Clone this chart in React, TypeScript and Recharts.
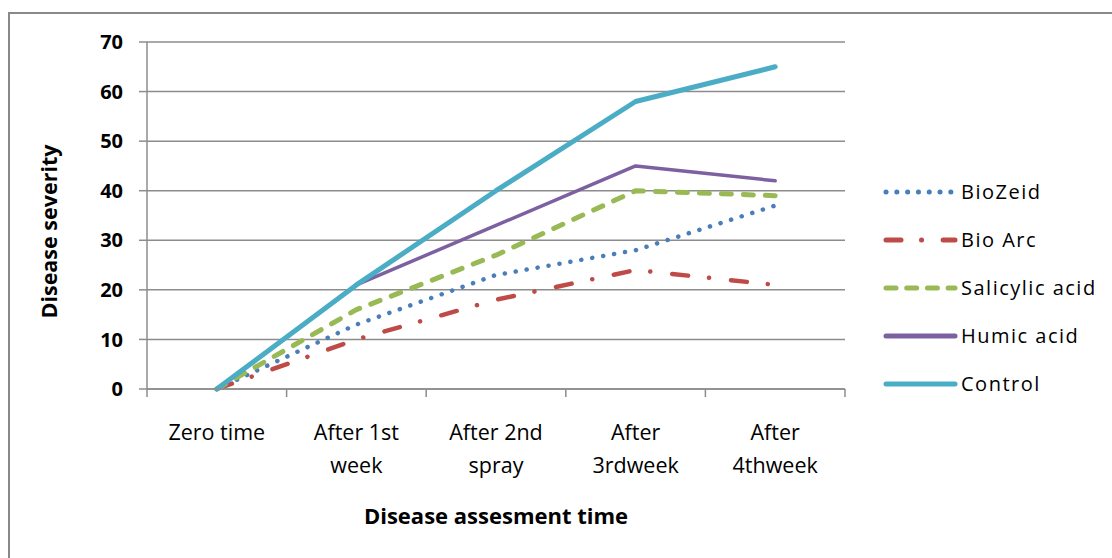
import React from "react";
import {
  CartesianGrid,
  Line,
  LineChart,
  XAxis,
  YAxis,
} from "recharts";

const categories = [
  "Zero time",
  "After 1st week",
  "After 2nd spray",
  "After 3rdweek",
  "After 4thweek",
];

// how Excel wrapped the category labels
const categoryLines = [
  ["Zero time"],
  ["After 1st", "week"],
  ["After 2nd", "spray"],
  ["After", "3rdweek"],
  ["After", "4thweek"],
];

const bioZeid = [0, 13, 23, 28, 37];
const bioArc = [0, 10, 18, 24, 21];
const salicylicAcid = [0, 16, 27, 40, 39];
const humicAcid = [0, 21, 33, 45, 42];
const control = [0, 21, 40, 58, 65];

const yTicks = [0, 10, 20, 30, 40, 50, 60, 70];

const series = [
  { key: "BioZeid", values: bioZeid, color: "#4a7ebb", width: 4.5, dash: "0.1 11", legendDash: "0.1 10.7" },
  { key: "Bio Arc", values: bioArc, color: "#be4b48", width: 4.5, dash: "16 21 0.1 22", legendDash: "15 20.5 0.1 21.5" },
  { key: "Salicylic acid", values: salicylicAcid, color: "#98b954", width: 5, dash: "10 12", legendDash: "10 10.7" },
  { key: "Humic acid", values: humicAcid, color: "#7d60a0", width: 3.5, dash: undefined, legendDash: undefined },
  { key: "Control", values: control, color: "#4bacc6", width: 5, dash: undefined, legendDash: undefined },
];

const data = categories.map((name, i) => {
  const row: Record<string, string | number> = { name };
  series.forEach((s) => {
    row[s.key] = s.values[i];
  });
  return row;
});

const FONT = "'Open Sans', Lato, sans-serif";
const GRID = "#8c8c8c";
const BAND = 698 / categories.length;

function CategoryTick(props: any) {
  const { x, y, index, visibleTicksCount } = props;
  const lines = categoryLines[index] ?? [String(props.payload.value)];
  const axisY = y - 8;
  const isLast = index === visibleTicksCount - 1;
  return (
    <g>
      <line x1={x - BAND / 2} x2={x - BAND / 2} y1={axisY} y2={axisY + 8} stroke={GRID} strokeWidth={1.5} />
      {isLast && (
        <line x1={x + BAND / 2} x2={x + BAND / 2} y1={axisY} y2={axisY + 8} stroke={GRID} strokeWidth={1.5} />
      )}
      {lines.map((t, i) => (
        <text
          key={i}
          x={x}
          y={axisY + 51 + i * 33}
          textAnchor="middle"
          fontFamily={FONT}
          fontSize={21.5}
          fill="#000"
        >
          {t}
        </text>
      ))}
    </g>
  );
}

function LegendBox() {
  return (
    <div
      style={{
        position: "absolute",
        left: 880,
        top: 168,
        fontFamily: FONT,
        fontSize: 20,
        letterSpacing: 1.5,
        color: "#000",
      }}
    >
      {series.map((s) => (
        <div key={s.key} style={{ display: "flex", alignItems: "center", height: 48 }}>
          <svg width={81} height={12} style={{ display: "block" }}>
            <line
              x1={6}
              x2={75}
              y1={6}
              y2={6}
              stroke={s.color}
              strokeWidth={5}
              strokeLinecap="round"
              strokeDasharray={s.legendDash}
            />
          </svg>
          <span style={{ lineHeight: "48px", whiteSpace: "nowrap" }}>{s.key}</span>
        </div>
      ))}
    </div>
  );
}

export default function App() {
  return (
    <div style={{ position: "relative", width: 1112, height: 558, overflow: "hidden", background: "#fff" }}>
      <style>{"body{margin:0;overflow:hidden}"}</style>
      <div
        style={{
          position: "absolute",
          left: 8,
          top: 12,
          width: 1200,
          height: 700,
          border: "2px solid #898989",
        }}
      />
      <div style={{ position: "absolute", left: 0, top: 0 }}>
        <LineChart
          width={1112}
          height={558}
          data={data}
          margin={{ top: 42, right: 267, bottom: 0, left: 0 }}
        >
          <CartesianGrid vertical={false} stroke={GRID} strokeWidth={1.5} />
          <XAxis
            dataKey="name"
            height={169}
            padding={{ left: BAND / 2, right: BAND / 2 }}
            axisLine={{ stroke: GRID, strokeWidth: 1.5 }}
            tickLine={false}
            tickSize={8}
            tickMargin={0}
            interval={0}
            tick={<CategoryTick />}
            label={{
              content: ({ viewBox }: any) => (
                <text
                  x={viewBox.x + viewBox.width / 2}
                  y={524}
                  textAnchor="middle"
                  fontFamily={FONT}
                  fontSize={22}
                  fontWeight="bold"
                  fill="#000"
                >
                  Disease assesment time
                </text>
              ),
            }}
          />
          <YAxis
            width={147}
            domain={[0, 70]}
            ticks={yTicks}
            interval={0}
            axisLine={{ stroke: GRID, strokeWidth: 1.5 }}
            tickLine={{ stroke: GRID, strokeWidth: 1.5 }}
            tickSize={8}
            tickMargin={16}
            tick={{ fontFamily: FONT, fontSize: 20, fontWeight: "bold", fill: "#000" }}
            label={{
              content: ({ viewBox }: any) => {
                const cy = viewBox.y + viewBox.height / 2 + 16;
                return (
                  <text
                    x={48}
                    y={cy}
                    transform={`rotate(-90 48 ${cy})`}
                    textAnchor="middle"
                    dominantBaseline="central"
                    fontFamily={FONT}
                    fontSize={21.5}
                    fontWeight="bold"
                    fill="#000"
                  >
                    Disease severity
                  </text>
                );
              },
            }}
          />
          {series.map((s) => (
            <Line
              key={s.key}
              type="linear"
              dataKey={s.key}
              stroke={s.color}
              strokeWidth={s.width}
              strokeDasharray={s.dash}
              strokeLinecap="round"
              strokeLinejoin="round"
              dot={false}
              activeDot={false}
              isAnimationActive={false}
            />
          ))}
        </LineChart>
      </div>
      <LegendBox />
    </div>
  );
}
